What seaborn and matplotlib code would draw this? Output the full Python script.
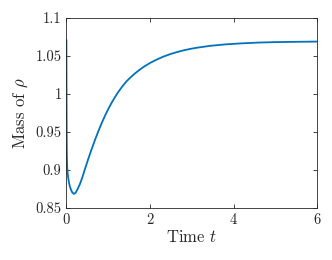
import numpy as np
import matplotlib
matplotlib.use("Agg")
import matplotlib.pyplot as plt
import seaborn as sns

# Values
time_t = [0, 0.003, 0.006, 0.01, 0.015, 0.02, 0.03, 0.04, 0.06, 0.08, 0.11, 0.14,
          0.18, 0.22, 0.26, 0.32, 0.38, 0.44, 0.52, 0.60, 0.68, 0.76, 0.84,
          0.92, 1.0, 1.08, 1.16, 1.24, 1.34, 1.44, 1.52, 1.62, 1.72, 1.84,
          2.0, 2.16, 2.32, 2.48, 2.64, 2.80, 2.96, 3.12, 3.44, 3.8, 4.2,
          4.6, 5.0, 5.5, 6.0]
mass_rho = [1.071, 1.0, 0.955, 0.925, 0.910, 0.903, 0.896, 0.891, 0.884, 0.879,
            0.874, 0.8705, 0.8685, 0.870, 0.874, 0.881, 0.890, 0.9005, 0.914,
            0.9267, 0.9389, 0.9504, 0.9611, 0.9709, 0.9799, 0.9881, 0.9956,
            1.0025, 1.0100, 1.0167, 1.0210, 1.0260, 1.0305, 1.0353, 1.0407,
            1.0452, 1.0491, 1.0523, 1.0550, 1.0573, 1.0592, 1.0608, 1.0633,
            1.0652, 1.0666, 1.0676, 1.0682, 1.0686, 1.0689]

x_ticks = [0, 2, 4, 6]
y_ticks = [0.85, 0.9, 0.95, 1.0, 1.05, 1.1]
y_tick_labels = ["0.85", "0.9", "0.95", "1", "1.05", "1.1"]

sns.set_style("ticks")
plt.rcParams['font.family'] = 'serif'
plt.rcParams['font.serif'] = ['cmr10']
plt.rcParams['mathtext.fontset'] = 'cm'
plt.rcParams['axes.formatter.use_mathtext'] = True

fig = plt.figure(figsize=(3.32, 2.60), dpi=100)
ax = fig.add_axes([0.2, 0.2, 0.755, 0.731])

sns.lineplot(x=time_t, y=mass_rho, ax=ax, color="#0072BD", linewidth=1.3,
             estimator=None, sort=False)

ax.set_xlim(0, 6)
ax.set_ylim(0.85, 1.1)
ax.set_xticks(x_ticks)
ax.set_xticklabels([str(v) for v in x_ticks])
ax.set_yticks(y_ticks)
ax.set_yticklabels(y_tick_labels)

for side in ['top', 'right', 'bottom', 'left']:
    ax.spines[side].set_visible(True)
    ax.spines[side].set_color('#262626')
    ax.spines[side].set_linewidth(0.6)
ax.tick_params(direction='in', length=3, width=0.6, color='#262626',
               labelsize=10.5, labelcolor='#262626', top=True, right=True)

ax.set_xlabel(r"Time $t$", fontsize=12, color='#262626', labelpad=2)
ax.set_ylabel(r"Mass of $\rho$", fontsize=12, color='#262626', labelpad=4)

fig.savefig("out.png", dpi=100)
